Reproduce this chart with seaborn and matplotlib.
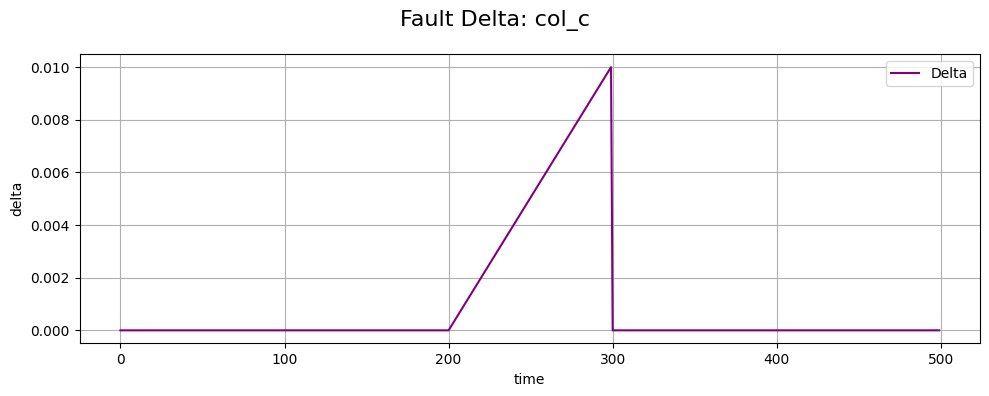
import matplotlib
matplotlib.use("Agg")
import matplotlib.pyplot as plt
import seaborn as sns
import pandas as pd

time = [0, 200, 299, 300, 499]
delta = [0.0, 0.0, 0.010, 0.0, 0.0]

df = pd.DataFrame({"time": time, "delta": delta})

fig, ax = plt.subplots(figsize=(9.89, 3.96), dpi=100)
sns.lineplot(data=df, x="time", y="delta", color="purple", label="Delta", ax=ax)
ax.grid(True)
ax.set_xlabel("time")
ax.set_ylabel("delta")
ax.legend(loc="upper right")
fig.suptitle("Fault Delta: col_c", fontsize=16, y=0.975)
fig.subplots_adjust(left=0.0804, right=0.991, top=0.8636, bottom=0.1326)
fig.savefig("out.png", dpi=100)
